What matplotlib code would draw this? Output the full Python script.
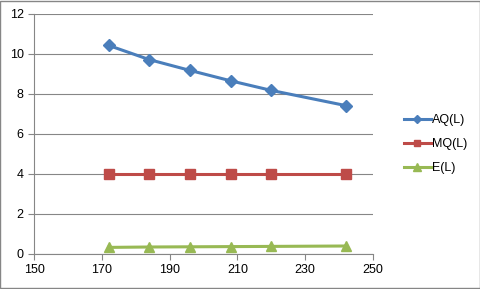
import matplotlib.pyplot as plt
from matplotlib.patches import Rectangle

# data
L = [172, 184, 196, 208, 220, 242]
aq = [10.43, 9.72, 9.18, 8.66, 8.18, 7.42]
mq = [4, 4, 4, 4, 4, 4]
e = [0.33, 0.35, 0.36, 0.37, 0.38, 0.40]

xticks = [150, 170, 190, 210, 230, 250]
yticks = [0, 2, 4, 6, 8, 10, 12]

plt.rcParams['font.family'] = ['Liberation Sans', 'DejaVu Sans']

fig = plt.figure(figsize=(4.81, 2.89), dpi=100)
ax = fig.add_axes([34 / 481, 1 - 254 / 289, (373 - 34) / 481, (254 - 14) / 289])

ax.plot(L, aq, color='#4A7EBB', lw=2.2, marker='D', ms=6, label='AQ(L)')
ax.plot(L, mq, color='#BE4B48', lw=2.2, marker='s', ms=6.5, label='MQ(L)')
ax.plot(L, e, color='#98B954', lw=2.2, marker='^', ms=7.5, label='E(L)')

ax.set_xlim(150, 250)
ax.set_ylim(0, 12)
ax.set_xticks(xticks)
ax.set_yticks(yticks)
ax.grid(axis='y', color='#868686', lw=0.8)
ax.set_axisbelow(True)
for s in ['top', 'right']:
    ax.spines[s].set_visible(False)
for s in ['left', 'bottom']:
    ax.spines[s].set_color('#868686')
    ax.spines[s].set_linewidth(0.8)
ax.tick_params(colors='#868686', labelcolor='black', labelsize=9, length=4, width=0.8)

fig.legend(loc='center left', bbox_to_anchor=(398 / 481, 1 - 144 / 289), frameon=False,
           fontsize=9, handlelength=2.1, handletextpad=0.15, labelspacing=0.95, borderpad=0,
           markerscale=0.75)

fig.patches.append(Rectangle((0.001, 0.002), 0.997, 0.995, transform=fig.transFigure,
                             fill=False, edgecolor='#868686', lw=1))

fig.savefig('out.png', dpi=100)
